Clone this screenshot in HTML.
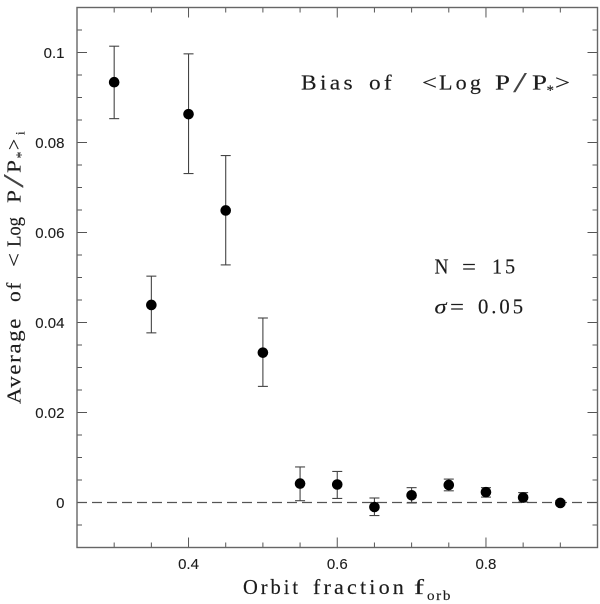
<!DOCTYPE html>
<html>
<head>
<meta charset="utf-8">
<style>
html,body{margin:0;padding:0;background:#fff;width:600px;height:604px;overflow:hidden}
svg{display:block}
text{font-family:"Liberation Serif",serif;fill:#1c1c1c;stroke:#1c1c1c;stroke-width:.15px}
text.w{letter-spacing:3px}
text.n{letter-spacing:1.5px}
text.slash{fill:#444;stroke:none}
.tick-label{font-family:"Liberation Sans",sans-serif;font-size:15px;stroke-width:.1px}
</style>
</head>
<body>
<svg id="chart" width="600" height="604" viewBox="0 0 600 604" xmlns="http://www.w3.org/2000/svg">
  <g id="ticks"></g>
  <g id="tick-labels"></g>
  <line id="zero" stroke="#555" stroke-width="1.3" stroke-dasharray="10 5"></line>
  <g id="errors"></g>
  <g id="points"></g>
  <rect id="frame" fill="none" stroke="#666" stroke-width="1.4"></rect>

  <g font-size="21">
    <text class="w" x="301" y="89.5" textLength="55" lengthAdjust="spacingAndGlyphs">Bias</text>
    <text class="w" x="369" y="89.5" textLength="26" lengthAdjust="spacingAndGlyphs">of</text>
    <text x="422" y="89.5" textLength="15" lengthAdjust="spacingAndGlyphs">&lt;</text>
    <text class="w" x="439" y="89.5" textLength="45" lengthAdjust="spacingAndGlyphs">Log</text>
    <text x="495" y="89.5" textLength="15" lengthAdjust="spacingAndGlyphs">P</text>
    <text class="slash" x="513" y="92" font-size="29" textLength="14" lengthAdjust="spacingAndGlyphs">/</text>
    <text x="532" y="89.5" textLength="15" lengthAdjust="spacingAndGlyphs">P</text>
    <text x="546.5" y="95" font-size="15">*</text>
    <text x="555" y="89.5" textLength="15" lengthAdjust="spacingAndGlyphs">&gt;</text>
  </g>
  <g font-size="21">
    <text x="434.5" y="273.3" textLength="14" lengthAdjust="spacingAndGlyphs">N</text>
    <text x="462" y="273.3" textLength="14" lengthAdjust="spacingAndGlyphs">=</text>
    <text class="w" x="492" y="273.3" textLength="26" lengthAdjust="spacingAndGlyphs">15</text>
  </g>
  <g font-size="21">
    <text x="434.5" y="313.3" font-style="italic" textLength="12" lengthAdjust="spacingAndGlyphs">σ</text>
    <text x="450" y="313.3" textLength="14" lengthAdjust="spacingAndGlyphs">=</text>
    <text class="w" x="478" y="313.3" textLength="48" lengthAdjust="spacingAndGlyphs">0.05</text>
  </g>

  <g transform="translate(20.5,405) rotate(-90)" font-size="20">
    <text class="n" x="1" y="0" textLength="87" lengthAdjust="spacingAndGlyphs">Average</text>
    <text class="n" x="103" y="0" textLength="21" lengthAdjust="spacingAndGlyphs">of</text>
    <text x="138" y="0" textLength="14" lengthAdjust="spacingAndGlyphs">&lt;</text>
    <text x="158" y="0" textLength="30" lengthAdjust="spacingAndGlyphs">Log</text>
    <text x="202" y="0" textLength="13" lengthAdjust="spacingAndGlyphs">P</text>
    <text class="slash" x="217" y="2.5" font-size="28" textLength="14" lengthAdjust="spacingAndGlyphs">/</text>
    <text x="232" y="0" textLength="13" lengthAdjust="spacingAndGlyphs">P</text>
    <text x="246.5" y="5" font-size="14">*</text>
    <text x="255" y="0" textLength="11" lengthAdjust="spacingAndGlyphs">&gt;</text>
    <text x="270" y="4" font-size="13">i</text>
  </g>

  <g font-size="21">
    <text class="w" x="243" y="594" textLength="58" lengthAdjust="spacingAndGlyphs">Orbit</text>
    <text class="w" x="313" y="594" textLength="94" lengthAdjust="spacingAndGlyphs">fraction</text>
    <text x="414" y="594" textLength="10" lengthAdjust="spacingAndGlyphs">f</text>
    <text class="n" x="427" y="600" font-size="14" textLength="25" lengthAdjust="spacingAndGlyphs">orb</text>
  </g>
</svg>
<script>
const orbitFractions = [0.3, 0.35, 0.4, 0.45, 0.5, 0.55, 0.6, 0.65, 0.7, 0.75, 0.8, 0.85, 0.9];
const meanValues = [0.0934, 0.0439, 0.0863, 0.0649, 0.0333, 0.0042, 0.004, -0.001, 0.0016, 0.0039, 0.0023, 0.0011, -0.0001];
const upperValues = [0.1014, 0.0503, 0.0997, 0.0771, 0.041, 0.0079, 0.0069, 0.001, 0.0033, 0.0052, 0.0033, 0.0022, 0.0004];
const lowerValues = [0.0853, 0.0377, 0.0731, 0.0528, 0.0258, 0.0004, 0.0009, -0.0029, -0.0001, 0.0026, 0.0012, 0.0001, -0.0005];
const xMajorTicks = [0.4, 0.6, 0.8];
const xMinorTicks = [0.3, 0.35, 0.45, 0.5, 0.55, 0.65, 0.7, 0.75, 0.85, 0.9];
const yMajorTicks = [0, 0.02, 0.04, 0.06, 0.08, 0.1];
const yMinorTicks = [-0.005, 0.005, 0.01, 0.015, 0.025, 0.03, 0.035, 0.045, 0.05, 0.055, 0.065, 0.07, 0.075, 0.085, 0.09, 0.095, 0.105];
const xTickLabels = ['0.4', '0.6', '0.8'];
const yTickLabels = ['0', '0.02', '0.04', '0.06', '0.08', '0.1'];
const xDomain = [0.25, 0.95];
const yDomain = [-0.01, 0.11];

const NS = 'http://www.w3.org/2000/svg';
const left = 77, right = 597.5, top_ = 7.5, bottom = 547.5;
function xScale(v) { return left + (v - xDomain[0]) / (xDomain[1] - xDomain[0]) * (right - left); }
function yScale(v) { return bottom - (v - yDomain[0]) / (yDomain[1] - yDomain[0]) * (bottom - top_); }
function line(parent, x1, y1, x2, y2, stroke, width) {
  const el = document.createElementNS(NS, 'line');
  el.setAttribute('x1', x1);
  el.setAttribute('y1', y1);
  el.setAttribute('x2', x2);
  el.setAttribute('y2', y2);
  el.setAttribute('stroke', stroke);
  el.setAttribute('stroke-width', width);
  parent.appendChild(el);
  return el;
}

const frame = document.getElementById('frame');
frame.setAttribute('x', left);
frame.setAttribute('y', top_);
frame.setAttribute('width', right - left);
frame.setAttribute('height', bottom - top_);

const zero = document.getElementById('zero');
zero.setAttribute('x1', left);
zero.setAttribute('x2', right);
zero.setAttribute('y1', yScale(0));
zero.setAttribute('y2', yScale(0));

const ticks = document.getElementById('ticks');
function xTick(v, len) {
  const x = xScale(v);
  const a = line(ticks, x, bottom, x, bottom - len, '#555', 1);
  
  
  const b = line(ticks, x, top_, x, top_ + len, '#555', 1);
  
  
}
function yTick(v, len) {
  const y = yScale(v);
  const a = line(ticks, left, y, left + len, y, '#555', 1);
  
  
  const b = line(ticks, right, y, right - len, y, '#555', 1);
  
  
}
xMajorTicks.forEach(function (v) { xTick(v, 10); });
xMinorTicks.forEach(function (v) { xTick(v, 5); });
yMajorTicks.forEach(function (v) { yTick(v, 10); });
yMinorTicks.forEach(function (v) { yTick(v, 5); });

const labels = document.getElementById('tick-labels');
xMajorTicks.forEach(function (v, i) {
  const t = document.createElementNS(NS, 'text');
  t.setAttribute('class', 'tick-label');
  
  
  t.setAttribute('x', xScale(v));
  t.setAttribute('y', 569);
  t.setAttribute('text-anchor', 'middle');
  t.textContent = xTickLabels[i];
  labels.appendChild(t);
});
yMajorTicks.forEach(function (v, i) {
  const t = document.createElementNS(NS, 'text');
  t.setAttribute('class', 'tick-label');
  
  
  t.setAttribute('x', 64.5);
  t.setAttribute('y', yScale(v) + 5.5);
  t.setAttribute('text-anchor', 'end');
  t.textContent = yTickLabels[i];
  labels.appendChild(t);
});

const errors = document.getElementById('errors');
const points = document.getElementById('points');
orbitFractions.forEach(function (f, i) {
  const x = xScale(f);
  const yu = yScale(upperValues[i]);
  const yl = yScale(lowerValues[i]);
  const stem = line(errors, x, yu, x, yl, '#444', 1.1);
  
  
  const capTop = line(errors, x - 5, yu, x + 5, yu, '#444', 1.1);
  
  
  const capBottom = line(errors, x - 5, yl, x + 5, yl, '#444', 1.1);
  
  
  const c = document.createElementNS(NS, 'circle');
  
  
  c.setAttribute('cx', x);
  c.setAttribute('cy', yScale(meanValues[i]));
  c.setAttribute('r', 5.3);
  c.setAttribute('fill', '#000');
  points.appendChild(c);
});
</script>
</body>
</html>
